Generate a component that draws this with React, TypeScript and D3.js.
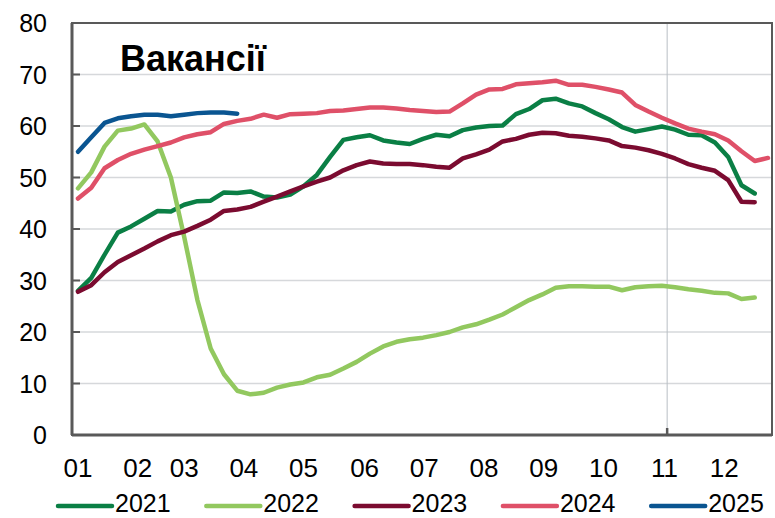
import React, { useEffect, useRef } from 'react';
import * as d3 from 'd3';

// weekly index of vacancies, one value per week
const series2021 = [
  28.0, 30.5, 35.0, 39.3, 40.5, 42.0, 43.5, 43.4, 44.7, 45.4, 45.5, 47.1, 47.0,
  47.3, 46.3, 46.1, 46.7, 48.3, 50.5, 54.0, 57.3, 57.8, 58.2, 57.2, 56.8, 56.5,
  57.5, 58.3, 58.0, 59.2, 59.7, 60.0, 60.1, 62.3, 63.3, 65.0, 65.3, 64.4, 63.8,
  62.5, 61.3, 59.8, 58.9, 59.4, 59.9, 59.3, 58.3, 58.2, 56.8, 54.0, 48.5, 46.9,
];
const series2022 = [
  47.9, 51.0, 56.0, 59.1, 59.5, 60.3, 57.0, 50.0, 38.5, 26.2, 16.8, 11.8, 8.6,
  7.9, 8.2, 9.2, 9.8, 10.2, 11.2, 11.7, 12.9, 14.2, 15.8, 17.2, 18.1, 18.6,
  18.9, 19.4, 20.0, 20.9, 21.5, 22.4, 23.4, 24.8, 26.2, 27.3, 28.6, 28.9, 28.9,
  28.8, 28.8, 28.1, 28.7, 28.9, 29.0, 28.7, 28.3, 28.0, 27.6, 27.5, 26.4, 26.7,
];
const series2023 = [
  27.8, 29.1, 31.6, 33.6, 34.9, 36.2, 37.6, 38.8, 39.5, 40.6, 41.8, 43.5, 43.8,
  44.3, 45.3, 46.3, 47.3, 48.3, 49.2, 50.0, 51.4, 52.4, 53.1, 52.7, 52.6, 52.6,
  52.4, 52.1, 51.9, 53.7, 54.5, 55.4, 57.0, 57.5, 58.3, 58.7, 58.6, 58.1, 57.9,
  57.6, 57.2, 56.1, 55.8, 55.3, 54.6, 53.7, 52.6, 51.9, 51.3, 49.5, 45.3, 45.2,
];
const series2024 = [
  45.9, 48.0, 51.8, 53.4, 54.6, 55.4, 56.1, 56.8, 57.8, 58.4, 58.8, 60.4, 61.0,
  61.4, 62.2, 61.6, 62.3, 62.4, 62.5, 62.9, 63.0, 63.3, 63.6, 63.6, 63.4, 63.1,
  62.9, 62.7, 62.8, 64.4, 66.1, 67.1, 67.2, 68.1, 68.3, 68.5, 68.8, 68.0, 68.0,
  67.6, 67.1, 66.5, 64.1, 62.8, 61.6, 60.5, 59.5, 58.9, 58.4, 57.2, 55.1, 53.2,
  53.8,
];
const series2025 = [
  55.0, 57.8, 60.6, 61.5, 61.9, 62.2, 62.2, 61.9, 62.2, 62.5, 62.6, 62.6, 62.4,
];

const seriesNames = ['2021', '2022', '2023', '2024', '2025'];
const seriesColors = ['#0a7f45', '#92c85f', '#7b0b30', '#df5068', '#0a5591'];
const seriesValues = [series2021, series2022, series2023, series2024, series2025];

const monthLabels = ['01', '02', '03', '04', '05', '06', '07', '08', '09', '10', '11', '12'];
const monthTickWeeks = [0, 4.5, 8, 12.5, 17, 21.6, 26.1, 30.6, 35.1, 39.6, 44.2, 48.7];
const gridWeek = 44.4;
const yTicks = [0, 10, 20, 30, 40, 50, 60, 70, 80];

const title = 'Вакансії';
const font = '"Liberation Sans", Arial, sans-serif';

const App = () => {
  const svgRef = useRef(null);

  useEffect(() => {
    const svg = d3.select(svgRef.current);
    svg.selectAll('*').remove();

    const plot = { left: 72, right: 772, top: 23, bottom: 435 };

    const xScale = d3.scaleLinear().domain([0, 52]).range([78, 768]);
    const yScale = d3.scaleLinear().domain([0, 80]).range([plot.bottom, plot.top]);

    // horizontal gridlines
    svg.append('g')
      .selectAll('line')
      .data(yTicks.slice(1, -1))
      .enter()
      .append('line')
      .attr('x1', plot.left)
      .attr('x2', plot.right)
      .attr('y1', (d) => yScale(d))
      .attr('y2', (d) => yScale(d))
      .attr('stroke', '#d6d8db')
      .attr('stroke-width', 1.5);

    // the lone vertical gridline
    svg.append('line')
      .attr('x1', xScale(gridWeek))
      .attr('x2', xScale(gridWeek))
      .attr('y1', plot.top)
      .attr('y2', plot.bottom)
      .attr('stroke', '#b8bec4')
      .attr('stroke-width', 1);

    // series
    const line = d3.line()
      .x((d, i) => xScale(i))
      .y((d) => yScale(d));

    seriesValues.forEach((values, k) => {
      svg.append('path')
        .datum(values)
        .attr('d', line)
        .attr('fill', 'none')
        .attr('stroke', seriesColors[k])
        .attr('stroke-width', 4.5)
        .attr('stroke-linejoin', 'round')
        .attr('stroke-linecap', 'round');
    });

    // frame
    svg.append('rect')
      .attr('x', plot.left)
      .attr('y', plot.top)
      .attr('width', plot.right - plot.left)
      .attr('height', plot.bottom - plot.top)
      .attr('fill', 'none')
      .attr('stroke', '#595959')
      .attr('stroke-width', 2);

    svg.append('line')
      .attr('x1', plot.left).attr('x2', plot.left)
      .attr('y1', plot.top).attr('y2', plot.bottom)
      .attr('stroke', '#595959').attr('stroke-width', 3);
    svg.append('line')
      .attr('x1', plot.left).attr('x2', plot.right)
      .attr('y1', plot.bottom).attr('y2', plot.bottom)
      .attr('stroke', '#595959').attr('stroke-width', 3);

    // y ticks inside, and labels
    const yAxis = svg.append('g').attr('font-family', font).attr('font-size', 25);
    yAxis.selectAll('line')
      .data(yTicks)
      .enter()
      .append('line')
      .attr('x1', plot.left)
      .attr('x2', plot.left + 8)
      .attr('y1', (d) => yScale(d))
      .attr('y2', (d) => yScale(d))
      .attr('stroke', '#595959')
      .attr('stroke-width', 2);
    yAxis.selectAll('text')
      .data(yTicks)
      .enter()
      .append('text')
      .attr('x', 47)
      .attr('y', (d) => yScale(d))
      .attr('dy', '0.36em')
      .attr('text-anchor', 'end')
      .attr('fill', '#000')
      .text((d) => d);

    // small tick at the vertical gridline
    svg.append('line')
      .attr('x1', xScale(gridWeek)).attr('x2', xScale(gridWeek))
      .attr('y1', plot.bottom).attr('y2', plot.bottom - 7)
      .attr('stroke', '#595959').attr('stroke-width', 2.5);

    // month labels
    svg.append('g')
      .attr('font-family', font)
      .attr('font-size', 26)
      .selectAll('text')
      .data(monthLabels)
      .enter()
      .append('text')
      .attr('x', (d, i) => xScale(monthTickWeeks[i]))
      .attr('y', 468)
      .attr('dy', '0.36em')
      .attr('text-anchor', 'middle')
      .attr('fill', '#000')
      .text((d) => d);

    // title
    svg.append('text')
      .attr('x', 120)
      .attr('y', 71)
      .attr('font-family', font)
      .attr('font-size', 36)
      .attr('font-weight', 'bold')
      .attr('fill', '#000')
      .text(title);

    // legend
    const legend = svg.append('g').attr('font-family', font).attr('font-size', 25);
    seriesNames.forEach((name, k) => {
      const lx = 58 + k * 148.3;
      legend.append('line')
        .attr('x1', lx).attr('x2', lx + 54)
        .attr('y1', 506).attr('y2', 506)
        .attr('stroke', seriesColors[k])
        .attr('stroke-width', 4.5)
        .attr('stroke-linecap', 'round');
      legend.append('text')
        .attr('x', lx + 57)
        .attr('y', 512)
        .attr('fill', '#000')
        .text(name);
    });
  }, []);

  return (
    <svg
      ref={svgRef}
      width={775}
      height={518}
      style={{ position: 'absolute', left: 0, top: 0, background: '#fff' }}
    />
  );
};

export default App;
